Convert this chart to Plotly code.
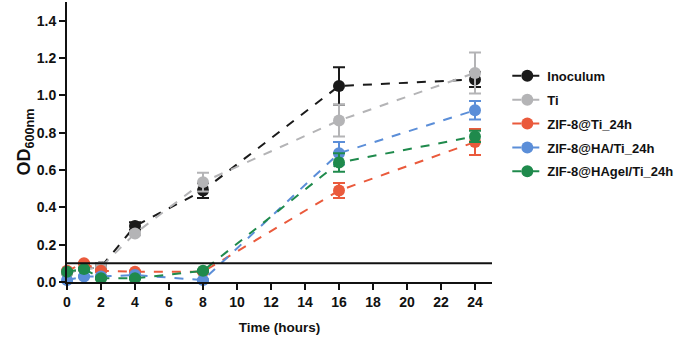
import plotly.graph_objects as go

names = ["Inoculum", "Ti", "ZIF-8@Ti_24h", "ZIF-8@HA/Ti_24h", "ZIF-8@HAgel/Ti_24h"]
colors = ["#1a1a1a", "#b4b4b6", "#ea5a3c", "#5b8ed8", "#1f8a4c"]
time_h = [0, 1, 2, 4, 8, 16, 24]

inoculum = [0.05, 0.07, 0.08, 0.30, 0.49, 1.05, 1.085]
inoculum_err = [0.005, 0.005, 0.02, 0.02, 0.04, 0.10, 0.04]
ti = [0.05, 0.07, 0.08, 0.26, 0.535, 0.865, 1.12]
ti_err = [0.005, 0.005, 0.02, 0.01, 0.05, 0.085, 0.11]
zif_ti = [0.06, 0.10, 0.06, 0.055, 0.055, 0.49, 0.75]
zif_ti_err = [0.005, 0.005, 0.005, 0.005, 0.005, 0.04, 0.07]
zif_ha = [0.01, 0.03, 0.03, 0.037, 0.01, 0.69, 0.92]
zif_ha_err = [0.005, 0.005, 0.005, 0.005, 0.005, 0.06, 0.05]
zif_hagel = [0.055, 0.07, 0.02, 0.02, 0.06, 0.64, 0.78]
zif_hagel_err = [0.005, 0.005, 0.005, 0.005, 0.005, 0.05, 0.03]

series = [inoculum, ti, zif_ti, zif_ha, zif_hagel]
errors = [inoculum_err, ti_err, zif_ti_err, zif_ha_err, zif_hagel_err]

threshold = 0.1
x_ticks = list(range(0, 25, 2))
y_ticks = [0.0, 0.2, 0.4, 0.6, 0.8, 1.0, 1.2, 1.4]

font_family = "Liberation Sans, Arial, sans-serif"

fig = go.Figure()
fig.add_hline(y=threshold, line=dict(color="#111111", width=2))

for name, color, ys, es in zip(names, colors, series, errors):
    fig.add_trace(go.Scatter(
        x=time_h, y=ys, name=name, mode="lines+markers", legendgroup=name,
        line=dict(color=color, width=2, dash="dash"),
        marker=dict(color=color, size=12),
        error_y=dict(type="data", array=es, color=color, thickness=2, width=6),
        cliponaxis=False,
    ))

fig.update_layout(
    width=692, height=339,
    margin=dict(l=67, r=200, t=2, b=57, autoexpand=False),
    plot_bgcolor="white", paper_bgcolor="white",
    font=dict(family=font_family, size=14, color="#111111", weight="bold"),
    legend=dict(x=1.036, y=0.79, xanchor="left", yanchor="top",
                font=dict(size=13, family=font_family, weight="bold"),
                itemwidth=30, tracegroupgap=4, traceorder="grouped"),
    xaxis=dict(range=[0, 25], tickvals=x_ticks, ticks="outside", ticklen=6,
               tickwidth=2, tickcolor="#111111", showline=True, linewidth=2,
               linecolor="#111111", showgrid=False, zeroline=False, automargin=False,
               title=dict(text="Time (hours)", standoff=14,
                          font=dict(size=13.5, weight="bold"))),
    yaxis=dict(range=[0, 1.5], tickvals=y_ticks, tickformat=".1f", ticks="outside",
               ticklen=6, tickwidth=2, tickcolor="#111111", showline=True,
               linewidth=2, linecolor="#111111", showgrid=False, zeroline=False,
               automargin=False,
               title=dict(text="OD<sub>600nm</sub>", standoff=0,
                          font=dict(size=18, weight="bold"))),
)

fig.write_html("out.html", post_script="document.body.style.margin='0';",
               config={"displayModeBar": False})
